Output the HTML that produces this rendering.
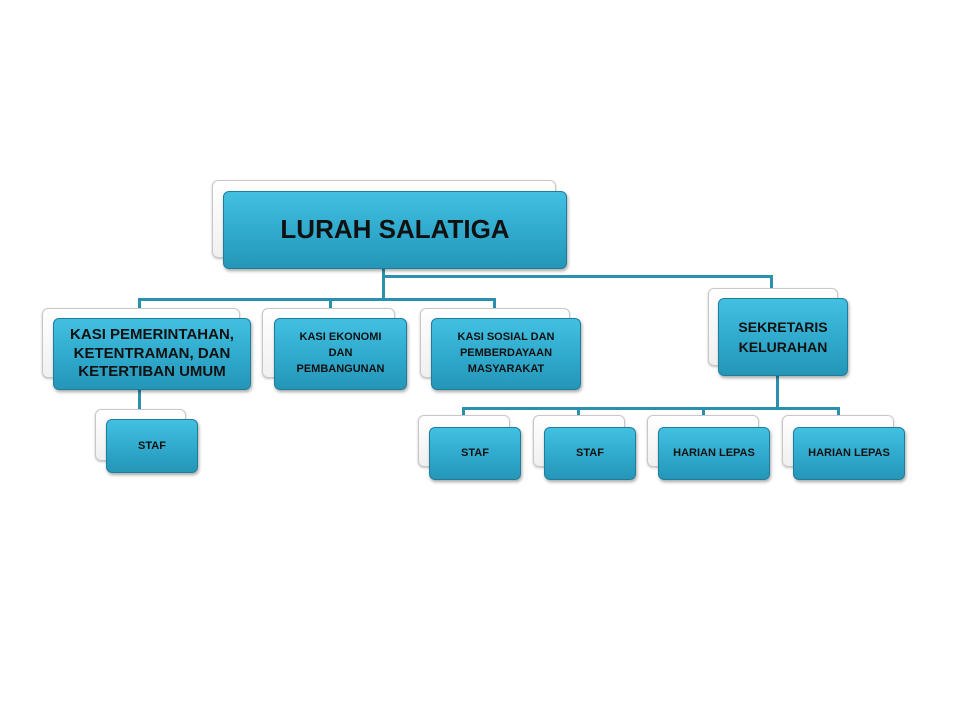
<!DOCTYPE html>
<html><head><meta charset="utf-8"><style>
body{margin:0;width:960px;height:720px;background:#fff;position:relative;overflow:hidden;font-family:"Liberation Sans",sans-serif;}
.b{position:absolute;background:linear-gradient(#ffffff,#f0f0f0);border:1px solid #c8c8c8;border-radius:6px;box-shadow:0 1px 2px rgba(0,0,0,.25);box-sizing:border-box}
.f{position:absolute;background:linear-gradient(#42c0e2,#2fa9cc 55%,#2596b8);border:1px solid #1f7d9a;border-radius:6px;box-shadow:1px 2px 3px rgba(0,0,0,.35);box-sizing:border-box;display:flex;align-items:center;justify-content:center;text-align:center;font-weight:bold;color:#111;line-height:1.3}
.l{position:absolute;background:#2b8fae}
</style></head><body>
<!-- connectors -->
<div class="l" style="left:382px;top:268px;width:3px;height:32px"></div>
<div class="l" style="left:382px;top:275px;width:391px;height:3px"></div>
<div class="l" style="left:770px;top:275px;width:3px;height:16px"></div>
<div class="l" style="left:138px;top:298px;width:358px;height:3px"></div>
<div class="l" style="left:138px;top:298px;width:3px;height:11px"></div>
<div class="l" style="left:329px;top:298px;width:3px;height:11px"></div>
<div class="l" style="left:493px;top:298px;width:3px;height:11px"></div>
<div class="l" style="left:138px;top:390px;width:3px;height:20px"></div>
<div class="l" style="left:776px;top:375px;width:3px;height:35px"></div>
<div class="l" style="left:462px;top:407px;width:378px;height:3px"></div>
<div class="l" style="left:462px;top:407px;width:3px;height:9px"></div>
<div class="l" style="left:577px;top:407px;width:3px;height:9px"></div>
<div class="l" style="left:702px;top:407px;width:3px;height:9px"></div>
<div class="l" style="left:837px;top:407px;width:3px;height:9px"></div>

<div class="b" style="left:212px;top:180px;width:344px;height:78px"></div>
<div class="f" style="left:223px;top:191px;width:344px;height:78px;font-size:26px">LURAH SALATIGA</div>

<div class="b" style="left:42px;top:308px;width:198px;height:70px"></div>
<div class="f" style="left:53px;top:318px;width:198px;height:72px;font-size:15px;line-height:1.25">KASI PEMERINTAHAN, KETENTRAMAN, DAN KETERTIBAN UMUM</div>

<div class="b" style="left:262px;top:308px;width:133px;height:70px"></div>
<div class="f" style="left:274px;top:318px;width:133px;height:72px;font-size:11px;line-height:1.45">KASI EKONOMI<br>DAN<br>PEMBANGUNAN</div>

<div class="b" style="left:420px;top:308px;width:150px;height:70px"></div>
<div class="f" style="left:431px;top:318px;width:150px;height:72px;font-size:11px;line-height:1.45">KASI SOSIAL DAN<br>PEMBERDAYAAN<br>MASYARAKAT</div>

<div class="b" style="left:708px;top:288px;width:130px;height:78px"></div>
<div class="f" style="left:718px;top:298px;width:130px;height:78px;font-size:14px;line-height:1.45">SEKRETARIS<br>KELURAHAN</div>

<div class="b" style="left:95px;top:409px;width:91px;height:52px"></div>
<div class="f" style="left:106px;top:419px;width:92px;height:54px;font-size:11px">STAF</div>

<div class="b" style="left:418px;top:415px;width:92px;height:52px"></div>
<div class="f" style="left:429px;top:427px;width:92px;height:53px;font-size:11px">STAF</div>
<div class="b" style="left:533px;top:415px;width:92px;height:52px"></div>
<div class="f" style="left:544px;top:427px;width:92px;height:53px;font-size:11px">STAF</div>
<div class="b" style="left:647px;top:415px;width:112px;height:52px"></div>
<div class="f" style="left:658px;top:427px;width:112px;height:53px;font-size:11px">HARIAN LEPAS</div>
<div class="b" style="left:782px;top:415px;width:112px;height:52px"></div>
<div class="f" style="left:793px;top:427px;width:112px;height:53px;font-size:11px">HARIAN LEPAS</div>
</body></html>
